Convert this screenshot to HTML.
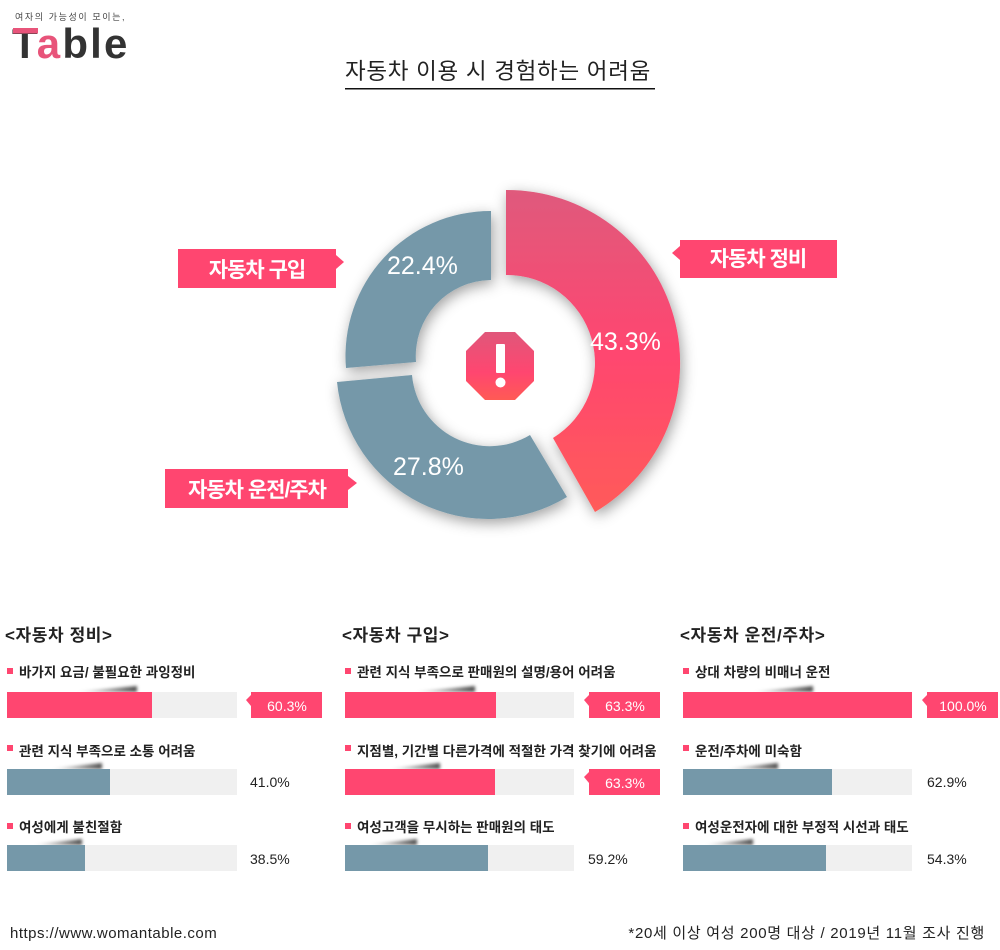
<!DOCTYPE html>
<html><head><meta charset="utf-8">
<style>
html,body{margin:0;padding:0;background:#fff;}
svg{display:block;}
.kr{font-family:"Liberation Sans","Noto Sans CJK KR",sans-serif;}
.lat{font-family:"Liberation Sans",sans-serif;}
</style></head>
<body>
<svg width="1000" height="950" viewBox="0 0 1000 950" xmlns="http://www.w3.org/2000/svg">
<defs>
  <linearGradient id="pinkG" x1="0" y1="190" x2="0" y2="512" gradientUnits="userSpaceOnUse">
    <stop offset="0" stop-color="#df5a7c"/>
    <stop offset="0.5" stop-color="#ff4670"/>
    <stop offset="1" stop-color="#ff5b59"/>
  </linearGradient>
  <linearGradient id="octG" x1="0" y1="332" x2="0" y2="400" gradientUnits="userSpaceOnUse">
    <stop offset="0" stop-color="#e0577a"/>
    <stop offset="0.6" stop-color="#ff4670"/>
    <stop offset="1" stop-color="#ff5a55"/>
  </linearGradient>
  <filter id="sh" x="-20%" y="-20%" width="140%" height="140%">
    <feDropShadow dx="2" dy="4" stdDeviation="7" flood-color="#000" flood-opacity="0.38"/>
  </filter>
  <filter id="blur" x="-20%" y="-200%" width="140%" height="500%">
    <feGaussianBlur stdDeviation="1.6"/>
  </filter>
  <linearGradient id="smG" x1="0" y1="0" x2="1" y2="0">
    <stop offset="0" stop-color="#000" stop-opacity="0"/>
    <stop offset="1" stop-color="#000" stop-opacity="0.7"/>
  </linearGradient>
</defs>

<!-- Logo -->
<text x="15" y="20" class="kr" font-size="9" letter-spacing="1.6" fill="#444">여자의 가능성이 모이는,</text>
<text x="12" y="58" class="lat" font-size="42" font-weight="bold" letter-spacing="2.2" fill="#333"><tspan>T</tspan><tspan fill="#e8547a">a</tspan><tspan>ble</tspan></text>
<rect x="13" y="28" width="25" height="5.5" fill="#e8547a"/>

<!-- Title -->
<text x="345" y="79" class="kr" font-size="22.5" letter-spacing="0.7" fill="#222">자동차 이용 시 경험하는 어려움</text>
<rect x="345" y="88" width="310" height="1.5" fill="#111"/>

<!-- Donut -->
<g filter="url(#sh)">
  <path d="M506,190 A173,173 0 0 1 595,512 L553,438 A88,88 0 0 0 506,275 Z" fill="url(#pinkG)"/>
  <path d="M491,211 A145,145 0 0 0 346,368 L416,362 A76,76 0 0 1 491,280 Z" fill="#7598a9"/>
  <path d="M337,382 A152,152 0 0 0 567,497 L530,435 A78,78 0 0 1 412,375 Z" fill="#7598a9"/>
</g>
<polygon points="485,332 515,332 534,351 534,381 515,400 485,400 466,381 466,351" fill="url(#octG)"/>
<rect x="496" y="344" width="9" height="29" rx="1" fill="#fff"/>
<circle cx="500.5" cy="382.5" r="5" fill="#fff"/>

<text x="387" y="274" class="lat" font-size="25" fill="#fff">22.4%</text>
<text x="590" y="350" class="lat" font-size="25" fill="#fff">43.3%</text>
<text x="393" y="475" class="lat" font-size="25" fill="#fff">27.8%</text>

<!-- Donut labels -->
<rect x="178" y="249" width="158" height="39" fill="#ff4670"/>
<polygon points="336,255 344,262 336,269" fill="#ff4670"/>
<text x="257" y="277" text-anchor="middle" class="kr" font-size="21" font-weight="bold" letter-spacing="-1" fill="#fff">자동차 구입</text>

<rect x="680" y="240" width="157" height="38" fill="#ff4670"/>
<polygon points="680,246 672,253 680,260" fill="#ff4670"/>
<text x="758" y="266" text-anchor="middle" class="kr" font-size="21" font-weight="bold" letter-spacing="-1" fill="#fff">자동차 정비</text>

<rect x="165" y="469" width="183" height="39" fill="#ff4670"/>
<polygon points="348,476 357,483 348,490" fill="#ff4670"/>
<text x="257" y="497" text-anchor="middle" class="kr" font-size="21" font-weight="bold" letter-spacing="-1" fill="#fff">자동차 운전/주차</text>

<!-- Column 1 -->
<text x="5" y="641" class="kr" font-size="17" font-weight="bold" letter-spacing="0.6" fill="#222">&lt;자동차 정비&gt;</text>

<rect x="7" y="668" width="6" height="6" fill="#ff4670"/>
<text x="19" y="677" class="kr" font-size="13.5" font-weight="bold" letter-spacing="0" fill="#222">바가지 요금/ 불필요한 과잉정비</text>
<path d="M75,692 L137,686 L137,692 Z" fill="url(#smG)" filter="url(#blur)"/>
<rect x="7" y="692" width="230" height="26" fill="#f0f0f0"/>
<rect x="7" y="692" width="145" height="26" fill="#ff4670"/>
<rect x="251" y="692" width="71" height="26" fill="#ff4670"/>
<polygon points="251,695 246,700 251,706" fill="#ff4670"/>
<text x="287" y="711" text-anchor="middle" class="lat" font-size="14" fill="#fff">60.3%</text>

<rect x="7" y="745" width="6" height="6" fill="#ff4670"/>
<text x="19" y="756" class="kr" font-size="13.5" font-weight="bold" letter-spacing="0" fill="#222">관련 지식 부족으로 소통 어려움</text>
<path d="M50,769 L102,763 L102,769 Z" fill="url(#smG)" filter="url(#blur)"/>
<rect x="7" y="769" width="230" height="26" fill="#f0f0f0"/>
<rect x="7" y="769" width="103" height="26" fill="#7598a9"/>
<text x="250" y="787" class="lat" font-size="14" fill="#222">41.0%</text>

<rect x="7" y="823" width="6" height="6" fill="#ff4670"/>
<text x="19" y="832" class="kr" font-size="13.5" font-weight="bold" letter-spacing="0" fill="#222">여성에게 불친절함</text>
<path d="M32,845 L82,839 L82,845 Z" fill="url(#smG)" filter="url(#blur)"/>
<rect x="7" y="845" width="230" height="26" fill="#f0f0f0"/>
<rect x="7" y="845" width="78" height="26" fill="#7598a9"/>
<text x="250" y="864" class="lat" font-size="14" fill="#222">38.5%</text>

<!-- Column 2 -->
<text x="342" y="641" class="kr" font-size="17" font-weight="bold" letter-spacing="0.6" fill="#222">&lt;자동차 구입&gt;</text>

<rect x="345" y="668" width="6" height="6" fill="#ff4670"/>
<text x="357" y="677" class="kr" font-size="13.5" font-weight="bold" letter-spacing="0" fill="#222">관련 지식 부족으로 판매원의 설명/용어 어려움</text>
<path d="M413,692 L475,686 L475,692 Z" fill="url(#smG)" filter="url(#blur)"/>
<rect x="345" y="692" width="229" height="26" fill="#f0f0f0"/>
<rect x="345" y="692" width="151" height="26" fill="#ff4670"/>
<rect x="589" y="692" width="71" height="26" fill="#ff4670"/>
<polygon points="589,695 584,700 589,706" fill="#ff4670"/>
<text x="625" y="711" text-anchor="middle" class="lat" font-size="14" fill="#fff">63.3%</text>

<rect x="345" y="745" width="6" height="6" fill="#ff4670"/>
<text x="357" y="756" class="kr" font-size="13.5" font-weight="bold" letter-spacing="0" fill="#222">지점별, 기간별 다른가격에 적절한 가격 찾기에 어려움</text>
<path d="M388,769 L440,763 L440,769 Z" fill="url(#smG)" filter="url(#blur)"/>
<rect x="345" y="769" width="229" height="26" fill="#f0f0f0"/>
<rect x="345" y="769" width="150" height="26" fill="#ff4670"/>
<rect x="589" y="769" width="71" height="26" fill="#ff4670"/>
<polygon points="589,772 584,777 589,783" fill="#ff4670"/>
<text x="625" y="788" text-anchor="middle" class="lat" font-size="14" fill="#fff">63.3%</text>

<rect x="345" y="823" width="6" height="6" fill="#ff4670"/>
<text x="357" y="832" class="kr" font-size="13.5" font-weight="bold" letter-spacing="0" fill="#222">여성고객을 무시하는 판매원의 태도</text>
<path d="M367,845 L417,839 L417,845 Z" fill="url(#smG)" filter="url(#blur)"/>
<rect x="345" y="845" width="229" height="26" fill="#f0f0f0"/>
<rect x="345" y="845" width="143" height="26" fill="#7598a9"/>
<text x="588" y="864" class="lat" font-size="14" fill="#222">59.2%</text>

<!-- Column 3 -->
<text x="680" y="641" class="kr" font-size="17" font-weight="bold" letter-spacing="0.6" fill="#222">&lt;자동차 운전/주차&gt;</text>

<rect x="683" y="668" width="6" height="6" fill="#ff4670"/>
<text x="695" y="677" class="kr" font-size="13.5" font-weight="bold" letter-spacing="0" fill="#222">상대 차량의 비매너 운전</text>
<path d="M751,692 L813,686 L813,692 Z" fill="url(#smG)" filter="url(#blur)"/>
<rect x="683" y="692" width="229" height="26" fill="#f0f0f0"/>
<rect x="683" y="692" width="229" height="26" fill="#ff4670"/>
<rect x="927" y="692" width="71" height="26" fill="#ff4670"/>
<polygon points="927,695 922,700 927,706" fill="#ff4670"/>
<text x="963" y="711" text-anchor="middle" class="lat" font-size="14" fill="#fff">100.0%</text>

<rect x="683" y="745" width="6" height="6" fill="#ff4670"/>
<text x="695" y="756" class="kr" font-size="13.5" font-weight="bold" letter-spacing="0" fill="#222">운전/주차에 미숙함</text>
<path d="M726,769 L778,763 L778,769 Z" fill="url(#smG)" filter="url(#blur)"/>
<rect x="683" y="769" width="229" height="26" fill="#f0f0f0"/>
<rect x="683" y="769" width="149" height="26" fill="#7598a9"/>
<text x="927" y="787" class="lat" font-size="14" fill="#222">62.9%</text>

<rect x="683" y="823" width="6" height="6" fill="#ff4670"/>
<text x="695" y="832" class="kr" font-size="13.5" font-weight="bold" letter-spacing="0" fill="#222">여성운전자에 대한 부정적 시선과 태도</text>
<path d="M703,845 L753,839 L753,845 Z" fill="url(#smG)" filter="url(#blur)"/>
<rect x="683" y="845" width="229" height="26" fill="#f0f0f0"/>
<rect x="683" y="845" width="143" height="26" fill="#7598a9"/>
<text x="927" y="864" class="lat" font-size="14" fill="#222">54.3%</text>

<!-- Footer -->
<text x="10" y="938" class="lat" font-size="15" letter-spacing="0.5" fill="#222">https://www.womantable.com</text>
<text x="985" y="938" text-anchor="end" class="kr" font-size="15" letter-spacing="0.7" fill="#222">*20세 이상 여성 200명 대상 / 2019년 11월 조사 진행</text>
</svg>
</body></html>
